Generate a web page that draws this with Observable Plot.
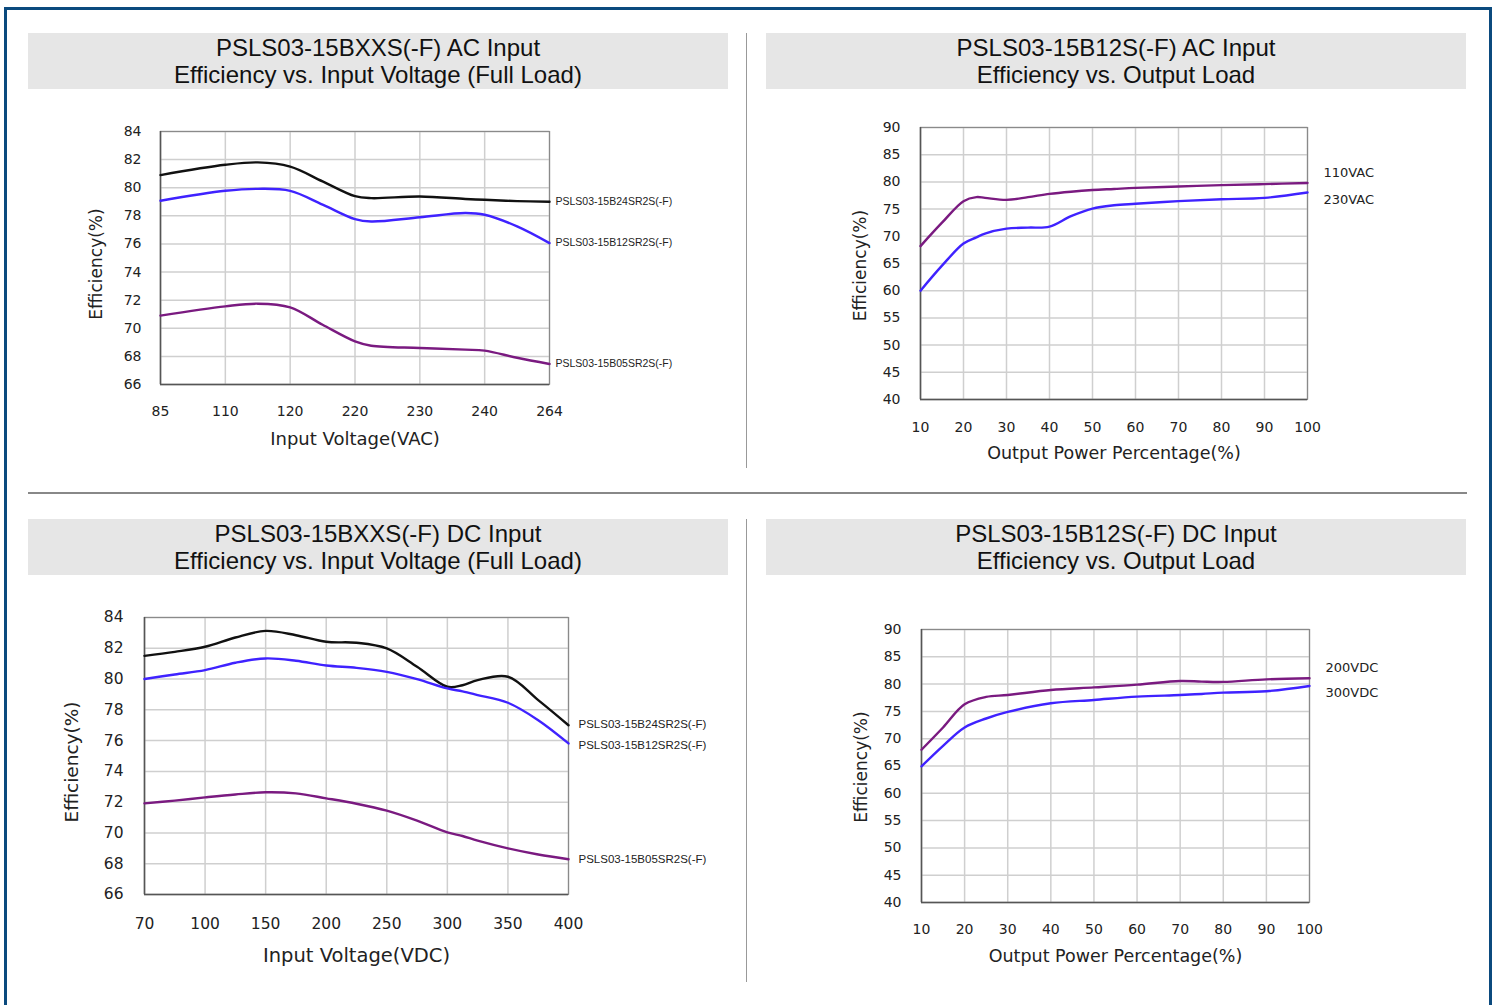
<!DOCTYPE html>
<html><head><meta charset="utf-8">
<script src="https://cdn.jsdelivr.net/npm/d3@7"></script>
<script src="https://cdn.jsdelivr.net/npm/@observablehq/plot@0.6"></script>
<style>
body{margin:0;background:#fff;width:1499px;height:1005px;overflow:hidden;position:relative;font-family:"Liberation Sans",Arial,sans-serif}
.border{position:absolute;left:4px;top:7px;width:1482px;height:1100px;border:3px solid #0b4a7e;box-sizing:content-box}
.tbox{position:absolute;width:700px;height:56px;background:#e6e6e6;font-size:24px;line-height:27px;text-align:center;color:#111;padding-top:1px;box-sizing:border-box}
.vdiv{position:absolute;left:746px;width:1px;background:#999}
.hdiv{position:absolute;left:28px;top:492px;width:1439px;height:2px;background:#888}
.chart{position:absolute}
</style></head>
<body>
<div class="border"></div>
<div class="tbox" style="left:28px;top:33px">PSLS03-15BXXS(-F) AC Input<br>Efficiency vs. Input Voltage (Full Load)</div>
<div class="tbox" style="left:766px;top:33px">PSLS03-15B12S(-F) AC Input<br>Efficiency vs. Output Load</div>
<div class="tbox" style="left:28px;top:519px">PSLS03-15BXXS(-F) DC Input<br>Efficiency vs. Input Voltage (Full Load)</div>
<div class="tbox" style="left:766px;top:519px">PSLS03-15B12S(-F) DC Input<br>Efficiency vs. Output Load</div>
<div class="vdiv" style="top:33px;height:435px"></div>
<div class="vdiv" style="top:519px;height:463px"></div>
<div class="hdiv"></div>
<div class="chart" id="c1" style="left:60px;top:110px"></div>
<div class="chart" id="c2" style="left:800px;top:105px"></div>
<div class="chart" id="c3" style="left:40px;top:595px"></div>
<div class="chart" id="c4" style="left:800px;top:605px"></div>
<script>
// ---------- Data ----------
// AC input, efficiency vs input voltage (categorical axis, index positions)
const acVinTicks = ["85", "110", "120", "220", "230", "240", "264"];
const acVinPos   = [0, 1, 1.5, 2, 2.5, 3, 3.25, 4, 4.7, 5, 5.5, 6];
const acVinB24   = [80.9, 81.63, 81.8, 81.5, 80.45, 79.4, 79.26, 79.38, 79.2, 79.14, 79.05, 79.0];
const acVinB12   = [79.07, 79.78, 79.92, 79.78, 78.8, 77.77, 77.6, 77.9, 78.2, 78.08, 77.25, 76.06];
const acVinB05   = [70.9, 71.56, 71.75, 71.49, 70.25, 69.07, 68.76, 68.6, 68.48, 68.41, 67.9, 67.46];

// AC input, efficiency vs output load
const acLoadPct  = [10, 15, 20, 23, 25, 30, 35, 40, 45, 50, 55, 60, 70, 80, 90, 100];
const ac110VAC   = [68.2, 72.5, 76.46, 77.2, 77.07, 76.7, 77.2, 77.8, 78.2, 78.5, 78.7, 78.9, 79.15, 79.4, 79.6, 79.8];
const ac230VAC   = [60.0, 64.6, 68.66, 69.8, 70.5, 71.4, 71.6, 71.77, 73.7, 75.1, 75.7, 75.98, 76.46, 76.8, 77.07, 78.05];

// DC input, efficiency vs input voltage (categorical axis, index positions)
const dcVinTicks = ["70", "100", "150", "200", "250", "300", "350", "400"];
const dcVinPos   = [0, 0.5, 1, 1.5, 2, 2.5, 3, 3.5, 4, 4.5, 5, 5.25, 5.5, 6, 6.5, 7];
const dcVinB24   = [81.51, 81.77, 82.1, 82.7, 83.13, 82.85, 82.42, 82.36, 81.99, 80.8, 79.5, 79.6, 79.93, 80.15, 78.63, 77.0];
const dcVinB12   = [80.0, 80.3, 80.58, 81.06, 81.34, 81.19, 80.88, 80.73, 80.47, 80.0, 79.39, 79.2, 78.96, 78.46, 77.33, 75.82];
const dcVinB05   = [71.92, 72.1, 72.31, 72.5, 72.64, 72.57, 72.25, 71.9, 71.45, 70.8, 70.04, 69.8, 69.5, 69.0, 68.6, 68.29];

// DC input, efficiency vs output load
const dcLoadPct  = [10, 15, 20, 25, 30, 40, 50, 60, 70, 75, 80, 90, 100];
const dc200VDC   = [67.98, 72.06, 76.3, 77.65, 78.0, 78.93, 79.4, 79.9, 80.57, 80.45, 80.4, 80.87, 81.06];
const dc300VDC   = [64.94, 68.7, 72.06, 73.7, 74.9, 76.5, 77.1, 77.7, 78.0, 78.2, 78.44, 78.7, 79.66];

const loadTicks  = [10, 20, 30, 40, 50, 60, 70, 80, 90, 100];
const effTicksV  = [66, 68, 70, 72, 74, 76, 78, 80, 82, 84];
const effTicksL  = [40, 45, 50, 55, 60, 65, 70, 75, 80, 85, 90];

const modelNames = ["PSLS03-15B24SR2S(-F)", "PSLS03-15B12SR2S(-F)", "PSLS03-15B05SR2S(-F)"];

const C_BLACK = "#111111", C_BLUE = "#3f22ff", C_PURPLE = "#7a1a80";
const AXIS_FONT = "'DejaVu Sans', Lato, sans-serif";
const LABEL_FONT = "'Liberation Sans Narrow', 'Liberation Sans', Arial, sans-serif";

function zip(xs, ys) { return xs.map((x, i) => ({x, y: ys[i]})); }

function makeChart(o) {
  const marks = [
    Plot.gridX(o.xTicks, {stroke: "#cfcfcf", strokeOpacity: 1, strokeWidth: 1.5}),
    Plot.gridY(o.yTicks, {stroke: "#cfcfcf", strokeOpacity: 1, strokeWidth: 1.5}),
    Plot.frame({stroke: "#8a8a8a", strokeWidth: 1.2}),
    Plot.ruleX([o.xDomain[0]], {stroke: "#555", strokeWidth: 1.5}),
    Plot.ruleY([o.yDomain[0]], {stroke: "#555", strokeWidth: 1.5}),
    Plot.axisX(o.xTicks, {tickSize: 0, tickPadding: o.xPad, tickFormat: o.xFormat, fontSize: o.tickSize, fill: "#222", fontFamily: AXIS_FONT, label: null}),
    Plot.axisY(o.yTicks, {tickSize: 0, tickPadding: o.yPad, fontSize: o.tickSize, fill: "#222", fontFamily: AXIS_FONT, label: null}),
  ];
  for (const s of o.series) {
    const data = zip(s.xs, s.ys);
    marks.push(Plot.line(data, {x: "x", y: "y", stroke: s.color, strokeWidth: 2.4, curve: "catmull-rom"}));
    marks.push(Plot.text([data[data.length - 1]], {x: "x", y: "y", text: () => s.label, dx: o.labelDx, dy: s.dy || 0,
      textAnchor: "start", fontSize: s.size || o.labelSize, fontFamily: s.font || LABEL_FONT, fill: "#222"}));
  }
  marks.push(Plot.text([o.xTitle], {frameAnchor: "bottom", textAnchor: "middle", lineAnchor: "middle", dy: o.xTitleDy,
    fontSize: o.xTitleSize, fontFamily: AXIS_FONT, fill: "#222"}));
  marks.push(Plot.text(["Efficiency(%)"], {frameAnchor: "left", textAnchor: "middle", lineAnchor: "middle", dx: -o.yTitleDx, dy: o.yTitleDy || 0, rotate: -90,
    fontSize: o.yTitleSize, fontFamily: AXIS_FONT, fill: "#222"}));
  return Plot.plot({
    width: o.width, height: o.height,
    marginLeft: o.m[3], marginTop: o.m[0], marginRight: o.m[1], marginBottom: o.m[2],
    x: {domain: o.xDomain, axis: null},
    y: {domain: o.yDomain, axis: null},
    style: {background: "transparent", overflow: "visible"},
    marks
  });
}

document.getElementById("c1").appendChild(makeChart({
  width: 640, height: 350, m: [21, 151, 76, 100],
  xDomain: [0, 6], xTicks: d3.range(acVinTicks.length), xFormat: i => acVinTicks[i],
  yDomain: [66, 84], yTicks: effTicksV,
  xPad: 22, yPad: 19, tickSize: 14, labelSize: 10.5, labelDx: 6,
  xTitle: "Input Voltage(VAC)", xTitleDy: 55, xTitleSize: 18, yTitleDx: 64, yTitleDy: 6, yTitleSize: 17,
  series: [
    {xs: acVinPos, ys: acVinB24, color: C_BLACK, label: modelNames[0]},
    {xs: acVinPos, ys: acVinB12, color: C_BLUE, label: modelNames[1]},
    {xs: acVinPos, ys: acVinB05, color: C_PURPLE, label: modelNames[2]},
  ]
}));

document.getElementById("c2").appendChild(makeChart({
  width: 640, height: 370, m: [22, 133, 76, 120],
  xDomain: [10, 100], xTicks: loadTicks, xFormat: d => String(d),
  yDomain: [40, 90], yTicks: effTicksL,
  xPad: 23, yPad: 20, tickSize: 14, labelSize: 13.5, labelDx: 16,
  xTitle: "Output Power Percentage(%)", xTitleDy: 54, xTitleSize: 17.5, yTitleDx: 60, yTitleDy: 2, yTitleSize: 17,
  series: [
    {xs: acLoadPct, ys: ac110VAC, color: C_PURPLE, label: "110VAC", dy: -10, font: AXIS_FONT, size: 13},
    {xs: acLoadPct, ys: ac230VAC, color: C_BLUE, label: "230VAC", dy: 7, font: AXIS_FONT, size: 13},
  ]
}));

document.getElementById("c3").appendChild(makeChart({
  width: 690, height: 380, m: [22, 162, 81, 104],
  xDomain: [0, 7], xTicks: d3.range(dcVinTicks.length), xFormat: i => dcVinTicks[i],
  yDomain: [66, 84], yTicks: effTicksV,
  xPad: 23, yPad: 21, tickSize: 15.5, labelSize: 11.5, labelDx: 10,
  xTitle: "Input Voltage(VDC)", xTitleDy: 61, xTitleSize: 19.5, yTitleDx: 72, yTitleDy: 6, yTitleSize: 18.5,
  series: [
    {xs: dcVinPos, ys: dcVinB24, color: C_BLACK, label: modelNames[0], dy: -1},
    {xs: dcVinPos, ys: dcVinB12, color: C_BLUE, label: modelNames[1], dy: 2},
    {xs: dcVinPos, ys: dcVinB05, color: C_PURPLE, label: modelNames[2]},
  ]
}));

document.getElementById("c4").appendChild(makeChart({
  width: 640, height: 375, m: [24, 131, 78, 121],
  xDomain: [10, 100], xTicks: loadTicks, xFormat: d => String(d),
  yDomain: [40, 90], yTicks: effTicksL,
  xPad: 22, yPad: 20, tickSize: 14, labelSize: 13.5, labelDx: 16,
  xTitle: "Output Power Percentage(%)", xTitleDy: 54, xTitleSize: 17.5, yTitleDx: 60, yTitleDy: 1, yTitleSize: 17,
  series: [
    {xs: dcLoadPct, ys: dc200VDC, color: C_PURPLE, label: "200VDC", dy: -10, font: AXIS_FONT, size: 13},
    {xs: dcLoadPct, ys: dc300VDC, color: C_BLUE, label: "300VDC", dy: 7, font: AXIS_FONT, size: 13},
  ]
}));
</script>
</body></html>
